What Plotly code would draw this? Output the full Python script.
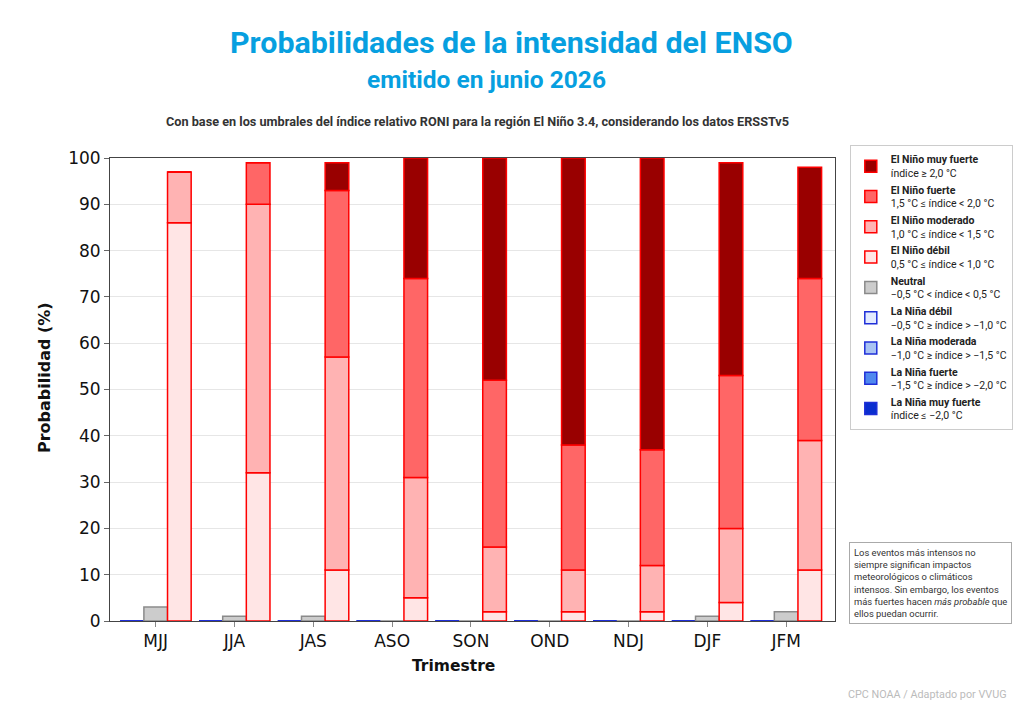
import numpy as np
import plotly.graph_objects as go

trimestres = ["MJJ", "JJA", "JAS", "ASO", "SON", "OND", "NDJ", "DJF", "JFM"]

# Probabilidades (%) por categoría
neutral = [3, 1, 1, 0, 0, 0, 0, 1, 2]
nino_debil = [86, 32, 11, 5, 2, 2, 2, 4, 11]
nino_moderado = [11, 58, 46, 26, 14, 9, 10, 16, 28]
nino_fuerte = [0, 9, 36, 43, 36, 27, 25, 33, 35]
nino_muy_fuerte = [0, 0, 6, 26, 48, 62, 63, 46, 24]
nina_debil = [0, 0, 0, 0, 0, 0, 0, 0, 0]
nina_moderada = [0, 0, 0, 0, 0, 0, 0, 0, 0]
nina_fuerte = [0, 0, 0, 0, 0, 0, 0, 0, 0]
nina_muy_fuerte = [0, 0, 0, 0, 0, 0, 0, 0, 0]

x = list(range(len(trimestres)))
W = 0.30

fig = go.Figure()

def add(vals, base, offset, name, fill, line, rank):
    fig.add_trace(go.Bar(
        x=x, y=vals, base=base, offset=offset, width=W, name=name,
        marker=dict(color=fill, line=dict(color=line, width=1.5)),
        legendrank=rank,
    ))

# La Niña (izquierda)
b = np.zeros(len(x))
for vals, name, fill, rank in [
    (nina_debil, "<b>La Niña débil</b><br>−0,5 °C ≥ índice > −1,0 °C", "#e3ebff", 6),
    (nina_moderada, "<b>La Niña moderada</b><br>−1,0 °C ≥ índice > −1,5 °C", "#a9c3f3", 7),
    (nina_fuerte, "<b>La Niña fuerte</b><br>−1,5 °C ≥ índice > −2,0 °C", "#5088ef", 8),
    (nina_muy_fuerte, "<b>La Niña muy fuerte</b><br>índice ≤ −2,0 °C", "#0a2ecf", 9),
]:
    add(vals, b.copy(), -1.5 * W, name, fill, "#1f2fd8", rank)
    b = b + np.array(vals)

# Neutral (centro)
add(neutral, np.zeros(len(x)), -0.5 * W,
    "<b>Neutral</b><br>−0,5 °C < índice < 0,5 °C", "#cccccc", "#8a8a8a", 5)

# El Niño (derecha)
b = np.zeros(len(x))
for vals, name, fill, rank in [
    (nino_debil, "<b>El Niño débil</b><br>0,5 °C ≤ índice < 1,0 °C", "#ffe5e5", 4),
    (nino_moderado, "<b>El Niño moderado</b><br>1,0 °C ≤ índice < 1,5 °C", "#ffb3b3", 3),
    (nino_fuerte, "<b>El Niño fuerte</b><br>1,5 °C ≤ índice < 2,0 °C", "#ff6666", 2),
    (nino_muy_fuerte, "<b>El Niño muy fuerte</b><br>índice ≥ 2,0 °C", "#990000", 1),
]:
    add(vals, b.copy(), 0.5 * W, name, fill, "#ff0000", rank)
    b = b + np.array(vals)

fig.update_layout(
    width=1024, height=720,
    barmode="overlay",
    paper_bgcolor="white", plot_bgcolor="white",
    margin=dict(l=110, r=188, t=158, b=99),
    font=dict(family="DejaVu Sans", color="#222"),
    showlegend=True,
    legend=dict(
        x=1.019, y=1.028, xanchor="left", yanchor="top",
        bordercolor="#cccccc", borderwidth=1, bgcolor="white",
        font=dict(family="Roboto", size=10.5, color="#222"),
        tracegroupgap=0,
    ),
    xaxis=dict(
        tickmode="array", tickvals=x, ticktext=trimestres,
        range=[-0.58, 8.62],
        showline=True, linecolor="#444", linewidth=1, mirror=True,
        ticks="outside", ticklen=5, tickcolor="#888",
        tickfont=dict(size=17, color="#111"),
        showgrid=False, zeroline=False,
    ),
    yaxis=dict(
        range=[0, 100], dtick=10,
        showline=True, linecolor="#444", linewidth=1, mirror=True,
        ticks="outside", ticklen=5, tickcolor="#666",
        tickfont=dict(size=17, color="#111"),
        showgrid=True, gridcolor="#e6e6e6", zeroline=False,
    ),
)

annotations = [
    dict(text="<b>Probabilidades de la intensidad del ENSO</b>", x=512, y=43,
         font=dict(family="Roboto", size=30.4, color="#079fe0")),
    dict(text="<b>emitido en junio 2026</b>", x=487, y=80,
         font=dict(family="Roboto", size=24.5, color="#079fe0")),
    dict(text="<b>Con base en los umbrales del índice relativo RONI para la región El Niño 3.4, considerando los datos ERSSTv5</b>",
         x=478, y=121, font=dict(family="Roboto", size=12.7, color="#333")),
    dict(text="CPC NOAA / Adaptado por VVUG", x=1010, y=694, xanchor="right",
         font=dict(family="Roboto", size=10.8, color="#bbbbbb")),
    dict(text="<b>Trimestre</b>", x=454, y=666,
         font=dict(family="DejaVu Sans", size=15.5, color="#111")),
    dict(text="<b>Probabilidad (%)</b>", x=44, y=378, textangle=-90,
         font=dict(family="DejaVu Sans", size=16, color="#111")),
]
for a in annotations:
    a.update(xref="paper", yref="paper", showarrow=False)
    a.setdefault("xanchor", "center")
    a["yanchor"] = "middle"
    a["x"] = (a["x"] - 110) / 726
    a["y"] = (621 - a["y"]) / 463
    fig.add_annotation(**a)

fig.add_annotation(
    text=("Los eventos más intensos no<br>siempre significan impactos<br>"
          "meteorológicos o climáticos<br>intensos. Sin embargo, los eventos<br>"
          "más fuertes hacen <i>más probable</i> que<br>ellos puedan ocurrir."),
    xref="paper", yref="paper", x=(850 - 110) / 726, y=(621 - 542) / 463,
    xanchor="left", yanchor="top", align="left", showarrow=False,
    font=dict(family="Roboto", size=9.4, color="#333"),
    bordercolor="#aaaaaa", borderwidth=1, borderpad=4, bgcolor="white",
)

fig.write_html("out.html")
